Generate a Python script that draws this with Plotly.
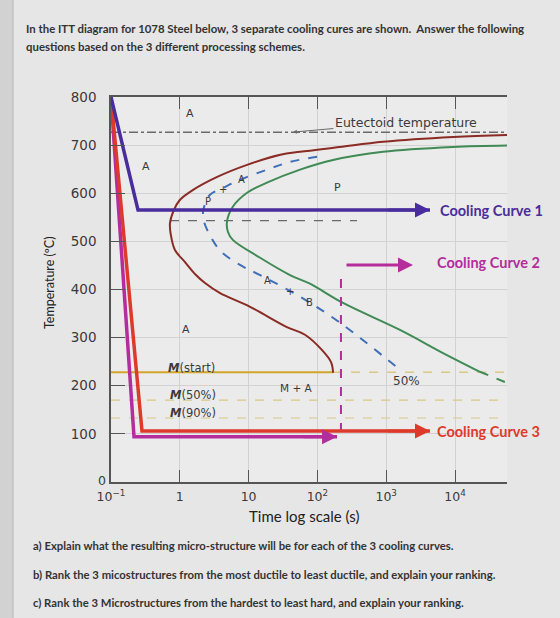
import math
import plotly.graph_objects as go

# ---------------- data ----------------
# transformation start curve (brown)
start_t = [57000, 9400, 900, 210, 56, 29, 9.5, 3.5, 1.56, 1.0, 0.82, 0.72, 0.74, 0.85,
           1.19, 1.72, 2.3, 3.8, 10.5, 36, 66, 117, 158, 169]
start_T = [721, 717, 707, 696, 686, 680, 659, 634, 607, 586, 565, 538, 514, 482,
           457, 430, 414, 393, 364, 322, 306, 274, 249, 227]
# 50% transformation curve (blue dashed)
half_t = [99, 40, 18.5, 7.5, 4.25, 2.75, 2.3, 2.17, 2.25, 2.5, 3.8, 7.5, 14.7, 56, 213, 1590]
half_T = [676, 665, 649, 628, 611, 597, 576, 559, 541, 524, 482, 451, 430, 385, 331, 233]
# transformation end curve (green)
end_t = [57000, 9350, 900, 169, 56, 18.5, 9.5, 5.9, 4.85, 5.0, 5.9, 14.7, 40, 78, 236, 1585, 6700, 23000]
end_T = [699, 696, 686, 669, 649, 622, 601, 572, 541, 520, 503, 466, 430, 412, 372, 316, 268, 229]
end_ext_t = [23000, 57000]
end_ext_T = [229, 206]

# reference temperatures
eutectoid_T = 727
ms_T = 228
m50_T = 170
m90_T = 133
pb_T = 543
pb_t = [0.72, 377]
ms_solid_t = [0.1, 169]
t_min, t_max = 0.1, 57000

# cooling curves
cc1_t = [0.1, 0.247, 4330]
cc1_T = [800, 565, 565]
cc2_t = [0.1, 0.216, 193]
cc2_T = [800, 94, 94]
cc2_vert_t = [220, 220]
cc2_vert_T = [104, 432]
cc2_top_t = [252, 2455]
cc2_top_T = 451
cc3_t = [0.1, 0.282, 4330]
cc3_T = [800, 106, 106]

x_tickvals = [0.1, 1, 10, 100, 1000, 10000]
x_ticktext = ["10<sup>−1</sup>", "1", "10", "10<sup>2</sup>", "10<sup>3</sup>", "10<sup>4</sup>"]
y_tickvals = [100, 200, 300, 400, 500, 600, 700, 800]

# ---------------- colours ----------------
BROWN = "#8a2b24"
BLUE = "#3f6fb8"
GREEN = "#3f8a55"
C1 = "#4a2d9c"
C2 = "#b52c9c"
C3 = "#de3a2c"
GOLD = "#d3a52c"
LGOLD = "#d8c884"
GREY = "#6a6a6a"
TXT = "#3a3a3a"

W, H = 560, 618
ML, MR, MT, MB = 111, 53, 97, 136
PW, PH = W - ML - MR, H - MT - MB

fig = go.Figure()

def line(x, y, color, width=2, dash="solid", shape="linear"):
    fig.add_trace(go.Scatter(x=x, y=y, mode="lines", hoverinfo="skip", showlegend=False,
                             line=dict(color=color, width=width, dash=dash, shape=shape)))

# reference lines
line([t_min, t_max], [eutectoid_T] * 2, GREY, 1.5, "dashdot")
line(pb_t, [pb_T] * 2, GREY, 1.2, "dash")
line([t_min, t_max], [m50_T] * 2, LGOLD, 1.2, "dash")
line([t_min, t_max], [m90_T] * 2, LGOLD, 1.2, "dash")
line([ms_solid_t[1], t_max], [ms_T] * 2, LGOLD, 1.4, "dash")
line(ms_solid_t, [ms_T] * 2, GOLD, 2)

# transformation curves
line(start_t, start_T, BROWN, 2, shape="spline")
line(half_t, half_T, BLUE, 2, "dash", shape="spline")
line(end_t, end_T, GREEN, 2, shape="spline")
line(end_ext_t, end_ext_T, GREEN, 2, "dash")

# cooling curves
line(cc2_t, cc2_T, C2, 3.5)
line(cc2_vert_t, cc2_vert_T, C2, 2, "dash")
line(cc3_t, cc3_T, C3, 3.5)
line(cc1_t, cc1_T, C1, 3.5)

annotations = []

def arrow(t_tail, t_head, T, color, width=3):
    annotations.append(dict(x=math.log10(t_head), y=T, ax=math.log10(t_tail), ay=T,
                            xref="x", yref="y", axref="x", ayref="y", text="",
                            showarrow=True, arrowhead=2, arrowsize=1, arrowwidth=width,
                            arrowcolor=color))

arrow(1000, cc1_t[-1], cc1_T[-1], C1)
arrow(60, cc2_t[-1], cc2_T[-1], C2)
arrow(cc2_top_t[0], cc2_top_t[1], cc2_top_T, C2)
arrow(1000, cc3_t[-1], cc3_T[-1], C3)

def label(t, T, text, size=11, color=TXT, xanchor="center", family="DejaVu Sans"):
    annotations.append(dict(x=math.log10(t), y=T, xref="x", yref="y", text=text,
                            showarrow=False, xanchor=xanchor, yanchor="middle",
                            font=dict(size=size, color=color, family=family)))

CC_FONT = "Lato"
label(10 ** 3.75, 565, "<b>Cooling Curve 1</b>", 14.5, C1, "left", CC_FONT)
label(10 ** 3.71, 457, "<b>Cooling Curve 2</b>", 14.5, C2, "left", CC_FONT)
label(10 ** 3.71, 104, "<b>Cooling Curve 3</b>", 14.5, C3, "left", CC_FONT)

# region labels
label(10 ** 0.148, 765, "A", 11)
label(10 ** -0.49, 655, "A", 11)
label(10 ** 0.09, 316, "A", 11)
label(10 ** 2.285, 611, "P", 11)
label(10 ** 1.69, 196, "M + A", 10.5)
label(10 ** 3.30, 210, "50%", 12)
label(10 ** 0.177, 237, "<b><i>M</i></b>(start)", 11.5)
label(10 ** 0.19, 181, "<b><i>M</i></b>(50%)", 11.5)
label(10 ** 0.19, 143, "<b><i>M</i></b>(90%)", 11.5)
# labels along the 50% curve
label(10 ** 0.41, 582, "P", 10)
label(10 ** 0.63, 607, "+", 10)
label(10 ** 0.90, 628, "A", 10)
label(10 ** 1.28, 418, "A", 10)
label(10 ** 1.60, 396, "+", 10)
label(10 ** 1.89, 373, "B", 10)

# eutectoid label
annotations.append(dict(x=math.log10(44), y=eutectoid_T, xref="x", yref="y",
                        text="Eutectoid temperature", showarrow=True, ax=113, ay=-10,
                        arrowhead=2, arrowsize=0.8, arrowwidth=1, arrowcolor=GREY,
                        font=dict(size=12.5, color=TXT, family="DejaVu Sans")))

def px(xp, yp, text, size, family="Lato", color="#333333", xanchor="left", textangle=0):
    annotations.append(dict(x=(xp - ML) / PW, y=(H - MB - yp) / PH, xref="paper", yref="paper",
                            text=text, showarrow=False, xanchor=xanchor, yanchor="middle",
                            textangle=textangle,
                            font=dict(size=size, color=color, family=family)))

px(102, 480, "0", 12.5, "DejaVu Sans", TXT, "center")
px(24, 29, "<b>In the ITT diagram for 1078 Steel below, 3 separate cooling cures are shown.  Answer the following</b>", 11.4)
px(24, 47, "<b>questions based on the 3 different processing schemes.</b>", 11.4)
px(304, 516, "Time log scale (s)", 15, "Lato", "#222222", "center")
px(49, 283, "Temperature (ºC)", 12.5, "Lato", "#222222", "center", -90)
px(31, 545, "<b>a) Explain what the resulting micro-structure will be for each of the 3 cooling curves.</b>", 11.3)
px(31, 574, "<b>b) Rank the 3 micostructures from the most ductile to least ductile, and explain your ranking.</b>", 11.3)
px(31, 602, "<b>c) Rank the 3 Microstructures from the hardest to least hard, and explain your ranking.</b>", 11.3)

# page edge strip on the left (photo)
shapes = [dict(type="rect", xref="paper", yref="paper", x0=-ML / PW, x1=(13 - ML) / PW,
               y0=-2, y1=2, fillcolor="#d2d2d2", line=dict(width=0), layer="below"),
          dict(type="line", xref="paper", yref="paper", x0=(13 - ML) / PW, x1=(13 - ML) / PW,
               y0=-2, y1=2, line=dict(color="#b8b8b8", width=1))]

fig.update_layout(
    width=W, height=H,
    margin=dict(l=ML, r=MR, t=MT, b=MB),
    paper_bgcolor="#e6e6e6", plot_bgcolor="#ebebeb",
    annotations=annotations, shapes=shapes,
    font=dict(family="DejaVu Sans", color=TXT),
    xaxis=dict(type="log", range=[-1, math.log10(t_max)], tickvals=x_tickvals,
               ticktext=x_ticktext, ticks="inside", ticklen=12, tickcolor="#555555",
               showline=True, linecolor="#555555", linewidth=1.5, mirror="ticks",
               showgrid=True, gridcolor="#d2d2d2", gridwidth=1, zeroline=False,
               ticklabelstandoff=2,
               tickfont=dict(size=12.5, color=TXT, family="DejaVu Sans")),
    yaxis=dict(range=[0, 800], tickvals=y_tickvals, ticks="inside", ticklen=14,
               tickcolor="#555555", showline=True, linecolor="#555555", linewidth=1.5,
               mirror=False, showgrid=True, gridcolor="#d2d2d2", gridwidth=1,
               zeroline=False, ticklabelstandoff=10,
               tickfont=dict(size=13.5, color=TXT, family="DejaVu Sans")),
)

fig.write_html("out.html")
